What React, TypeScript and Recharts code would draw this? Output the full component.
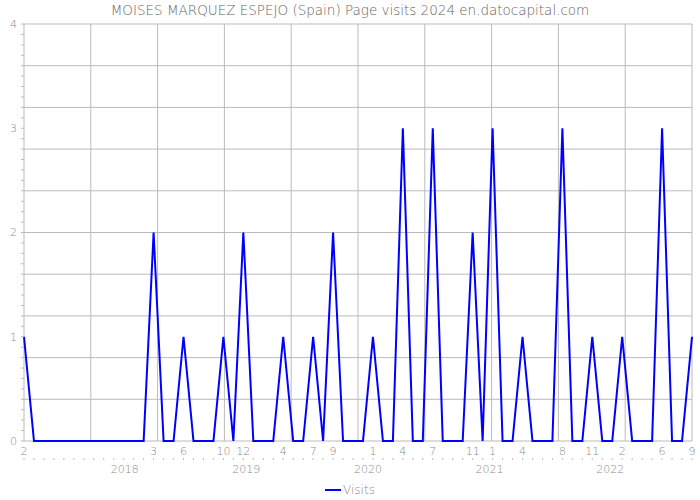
import React from 'react';
import { LineChart, Line, XAxis, YAxis, CartesianGrid, Legend } from 'recharts';

const TITLE = 'MOISES MARQUEZ ESPEJO (Spain) Page visits 2024 en.datocapital.com';
const FONT = '"DejaVu Sans", sans-serif';
const FONT_WEIGHT = 200;
const SERIES_NAME = 'Visits';

// Monthly series from 2017-02 to 2022-09
const START_YEAR = 2017;
const START_MONTH = 2;
const visits = [
  1, 0, 0, 0, 0, 0, 0, 0, 0, 0, 0, 0, 0, 2, 0, 0, 1, 0, 0, 0,
  1, 0, 2, 0, 0, 0, 1, 0, 0, 1, 0, 2, 0, 0, 0, 1, 0, 0, 3, 0,
  0, 3, 0, 0, 0, 2, 0, 3, 0, 0, 1, 0, 0, 0, 3, 0, 0, 1, 0, 0,
  1, 0, 0, 0, 3, 0, 0, 1,
];
// month positions (index into series) that carry a label on the axis
const monthLabelIdx = [0, 13, 16, 20, 22, 26, 29, 31, 35, 38, 41, 45, 47, 50, 54, 57, 60, 64, 67];
const monthLabels = ['2', '3', '6', '10', '12', '4', '7', '9', '1', '4', '7', '11', '1', '4', '8', '11', '2', '6', '9'];
// year labels (axis value position, label)
const yearPos = [10.1, 22.3, 34.5, 46.7, 58.8];
const yearLabels = ['2018', '2019', '2020', '2021', '2022'];
const yTickLabels = [0, 1, 2, 3, 4];

const monthCategories = visits.map((_, i) => {
  const m0 = START_MONTH - 1 + i;
  const y = START_YEAR + Math.floor(m0 / 12);
  const m = (m0 % 12) + 1;
  return `${y}-${String(m).padStart(2, '0')}`;
});

const data = visits.map((v, i) => ({ i, month: monthCategories[i], visits: v }));

const X_MAX = visits.length - 1;
const Y_MAX = 4;
const allMonthTicks = visits.map((_, i) => i);
const yMinorTicks = Array.from({ length: Y_MAX * 10 + 1 }, (_, k) => k / 10);
const gridYTicks = Array.from({ length: 11 }, (_, k) => (k * Y_MAX) / 10);
const gridXTicks = Array.from({ length: 11 }, (_, k) => (k * X_MAX) / 10);

const labelMap = new Map<number, string>();
monthLabelIdx.forEach((idx, k) => labelMap.set(idx, monthLabels[k]));
const yearMap = new Map<number, string>();
yearPos.forEach((p, k) => yearMap.set(p, yearLabels[k]));

const textStyle = { fontFamily: FONT, fontWeight: FONT_WEIGHT } as const;

const MonthTick = (props: any) => {
  const { x, y, payload } = props;
  const label = labelMap.get(payload.value);
  return (
    <g>
      <line x1={x} x2={x} y1={y + 11} y2={y + 13} stroke="#bbb" strokeWidth={1} />
      {label !== undefined && (
        <text x={x} y={y} dy="0.71em" textAnchor="middle" fill="#888" fontSize={11} style={textStyle}>
          {label}
        </text>
      )}
    </g>
  );
};

const YearTick = (props: any) => {
  const { x, y, payload } = props;
  return (
    <text x={x} y={y} dy="0.71em" textAnchor="middle" fill="#888" fontSize={11} style={textStyle}>
      {yearMap.get(payload.value)}
    </text>
  );
};

const YTick = (props: any) => {
  const { x, y, payload } = props;
  const v = payload.value;
  const r = Math.round(v);
  if (Math.abs(v - r) > 1e-6 || !yTickLabels.includes(r)) return <g />;
  return (
    <text x={x} y={y} dy="0.355em" textAnchor="end" fill="#888" fontSize={11} style={textStyle}>
      {r}
    </text>
  );
};

const LegendContent = (props: any) => {
  const payload = props.payload || [];
  return (
    <div style={{ display: 'flex', justifyContent: 'center', alignItems: 'center', height: 20 }}>
      {payload.map((p: any) => (
        <div key={p.value} style={{ display: 'flex', alignItems: 'center' }}>
          <svg width={16} height={4} style={{ display: 'block' }}>
            <line x1={0} x2={16} y1={2} y2={2} stroke={p.color} strokeWidth={2} />
          </svg>
          <span style={{ marginLeft: 2, color: '#888', fontSize: 12, ...textStyle }}>{p.value}</span>
        </div>
      ))}
    </div>
  );
};

export default function App() {
  return (
    <div style={{ position: 'absolute', left: 0, top: 0, width: 700, height: 500, background: '#fff' }}>
      <div
        style={{
          position: 'absolute',
          left: 0,
          top: 0,
          width: 700,
          height: 20,
          lineHeight: '20px',
          textAlign: 'center',
          fontSize: 13.5,
          color: '#666',
          ...textStyle,
        }}
      >
        {TITLE}
      </div>
      <LineChart width={700} height={500} data={data} margin={{ top: 24, right: 8, left: 0, bottom: 19 }}>
        <XAxis
          xAxisId="month"
          type="number"
          dataKey="i"
          domain={[0, X_MAX]}
          ticks={allMonthTicks}
          interval={0}
          height={20}
          tickSize={0}
          tickMargin={6}
          tickLine={false}
          axisLine={false}
          tick={<MonthTick />}
        />
        <XAxis
          xAxisId="year"
          type="number"
          dataKey="i"
          domain={[0, X_MAX]}
          ticks={yearPos}
          interval={0}
          height={20}
          tickSize={0}
          tickMargin={4}
          tickLine={false}
          axisLine={false}
          tick={<YearTick />}
        />
        <XAxis xAxisId="gx" type="number" dataKey="i" domain={[0, X_MAX]} ticks={gridXTicks} height={0} hide />
        <YAxis
          yAxisId="val"
          type="number"
          dataKey="visits"
          domain={[0, Y_MAX]}
          ticks={yMinorTicks}
          interval={0}
          width={24}
          tickSize={3}
          tickMargin={4}
          axisLine={false}
          tickLine={{ stroke: '#bbb' }}
          tick={<YTick />}
        />
        <YAxis yAxisId="gy" type="number" dataKey="visits" domain={[0, Y_MAX]} ticks={gridYTicks} width={0} hide />
        <CartesianGrid xAxisId="gx" yAxisId="gy" stroke="#bbb" strokeWidth={1} />
        <Line
          xAxisId="month"
          yAxisId="val"
          type="linear"
          dataKey="visits"
          name={SERIES_NAME}
          stroke="#0000ff"
          strokeWidth={2}
          dot={false}
          activeDot={false}
          isAnimationActive={false}
        />
        <Legend
          layout="horizontal"
          verticalAlign="middle"
          align="center"
          wrapperStyle={{ top: 480, left: 0, width: 700, height: 20 }}
          content={<LegendContent />}
        />
      </LineChart>
    </div>
  );
}
